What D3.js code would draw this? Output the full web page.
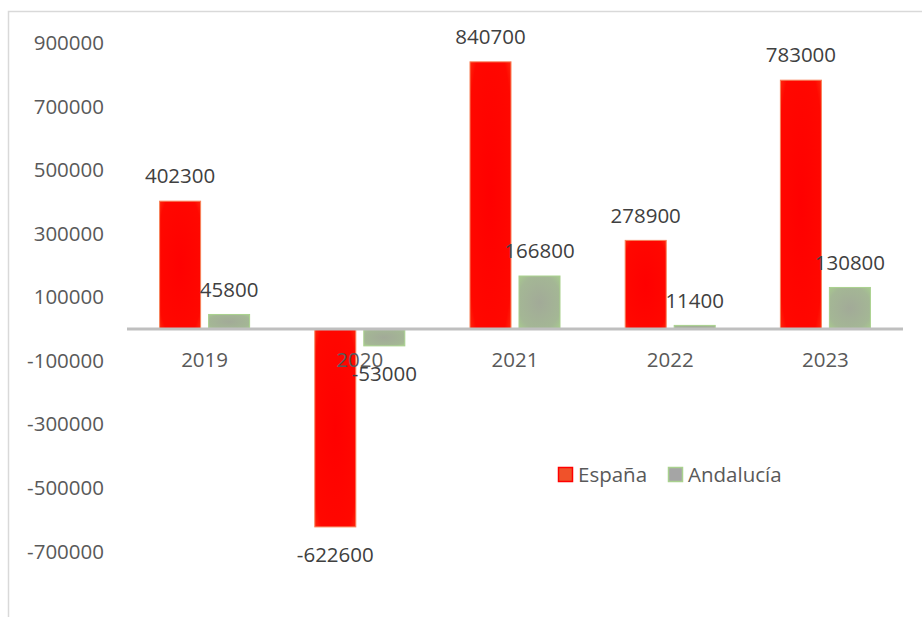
<!DOCTYPE html>
<html>
<head>
<meta charset="utf-8">
<script src="https://cdn.jsdelivr.net/npm/d3@7"></script>
<style>
  body { margin: 0; background: #fff; }
  text { font-family: "Open Sans", sans-serif; }
</style>
</head>
<body>
<script>
// categories and series
var years = ["2019", "2020", "2021", "2022", "2023"]
var espana = [402300, -622600, 840700, 278900, 783000]
var andalucia = [45800, -53000, 166800, 11400, 130800]
var yTicks = [900000, 700000, 500000, 300000, 100000, -100000, -300000, -500000, -700000]
var seriesNames = ["España", "Andalucía"]

var w = 922
var h = 617
var plot = {left: 127, right: 903, top: 43, bottom: 551.5}

var svg = d3.select("body")
            .append("svg")
            .attr("width", w)
            .attr("height", h)

// soft gradients like the office fill
var defs = svg.append("defs")
var gRed = defs.append("radialGradient").attr("id", "gRed").attr("r", "75%")
gRed.append("stop").attr("offset", "0%").attr("stop-color", "#ff0000")
gRed.append("stop").attr("offset", "80%").attr("stop-color", "#ff0800")
gRed.append("stop").attr("offset", "100%").attr("stop-color", "#ff3412")
var gGreen = defs.append("radialGradient").attr("id", "gGreen").attr("r", "75%")
gGreen.append("stop").attr("offset", "0%").attr("stop-color", "#a2aa98")
gGreen.append("stop").attr("offset", "70%").attr("stop-color", "#a4b795")
gGreen.append("stop").attr("offset", "100%").attr("stop-color", "#a9cf8e")

// outer frame (partly cropped)
svg.append("path")
   .attr("d", "M8.5," + h + "V11.5H" + w)
   .attr("fill", "none")
   .attr("stroke", "#d9d9d9")
   .attr("stroke-width", 1.5)

var xScale = d3.scaleBand()
               .domain(years)
               .range([plot.left, plot.right])

var xInner = d3.scaleBand()
               .domain(seriesNames)
               .range([0, xScale.bandwidth()])
               .paddingInner(0.163)
               .paddingOuter(0.665)

var yScale = d3.scaleLinear()
               .domain([-700000, 900000])
               .range([plot.bottom, plot.top])

// y axis labels
var yAxis = svg.append("g")
   .attr("transform", "translate(104,0)")
   .call(d3.axisLeft(yScale).tickValues(yTicks).tickSize(0).tickPadding(0)
           .tickFormat(function(d) { return String(d) }))
yAxis.select(".domain").remove()
yAxis.selectAll("text")
     .style("font-family", "'Open Sans', sans-serif")
     .style("font-size", "20.5px")
     .attr("fill", "#595959")

var fills = {"España": "url(#gRed)", "Andalucía": "url(#gGreen)"}
var strokes = {"España": "#f7825a", "Andalucía": "#a9d18e"}

var rows = []
years.forEach(function(y, i) {
  rows.push({year: y, serie: "España", value: espana[i]})
  rows.push({year: y, serie: "Andalucía", value: andalucia[i]})
})

// draw the bars
svg.selectAll(".bar")
   .data(rows)
   .enter()
   .append("rect")
   .attr("class", "bar")
   .attr("x", function(d) { return xScale(d.year) + xInner(d.serie) })
   .attr("y", function(d) { return yScale(Math.max(0, d.value)) })
   .attr("width", xInner.bandwidth())
   .attr("height", function(d) { return Math.abs(yScale(d.value) - yScale(0)) })
   .attr("fill", function(d) { return fills[d.serie] })
   .attr("stroke", function(d) { return strokes[d.serie] })
   .attr("stroke-width", 1)

// zero line
svg.append("line")
   .attr("x1", plot.left)
   .attr("x2", plot.right)
   .attr("y1", yScale(0))
   .attr("y2", yScale(0))
   .attr("stroke", "#bfbfbf")
   .attr("stroke-width", 3)

// category labels
svg.selectAll(".cat")
   .data(years)
   .enter()
   .append("text")
   .attr("class", "cat")
   .attr("x", function(d) { return xScale(d) + xScale.bandwidth() / 2 })
   .attr("y", yScale(0) + 31)
   .attr("dy", "0.35em")
   .attr("text-anchor", "middle")
   .style("font-size", "20.5px")
   .attr("fill", "#595959")
   .text(function(d) { return d })

// value labels
svg.selectAll(".val")
   .data(rows)
   .enter()
   .append("text")
   .attr("class", "val")
   .attr("x", function(d) { return xScale(d.year) + xInner(d.serie) + xInner.bandwidth() / 2 })
   .attr("y", function(d) {
      return d.value >= 0 ? yScale(d.value) - 25 : yScale(d.value) + 28
   })
   .attr("dy", "0.35em")
   .attr("text-anchor", "middle")
   .style("font-size", "20.5px")
   .attr("fill", "#404040")
   .text(function(d) { return d.value })

// legend
var legend = svg.append("g").attr("transform", "translate(558,467)")
var lx = [0, 110]
seriesNames.forEach(function(s, i) {
  legend.append("rect")
        .attr("x", lx[i] + 0.5)
        .attr("y", 0.5)
        .attr("width", 14)
        .attr("height", 14)
        .attr("fill", i == 0 ? "#f0522a" : "#a5a5a5")
        .attr("stroke", i == 0 ? "#ff0000" : "#a9d18e")
        .attr("stroke-width", 1.5)
  legend.append("text")
        .attr("x", lx[i] + 20)
        .attr("y", 7.5)
        .attr("dy", "0.35em")
        .style("font-size", "20.5px")
        .attr("fill", "#595959")
        .text(s)
})
</script>
</body>
</html>
